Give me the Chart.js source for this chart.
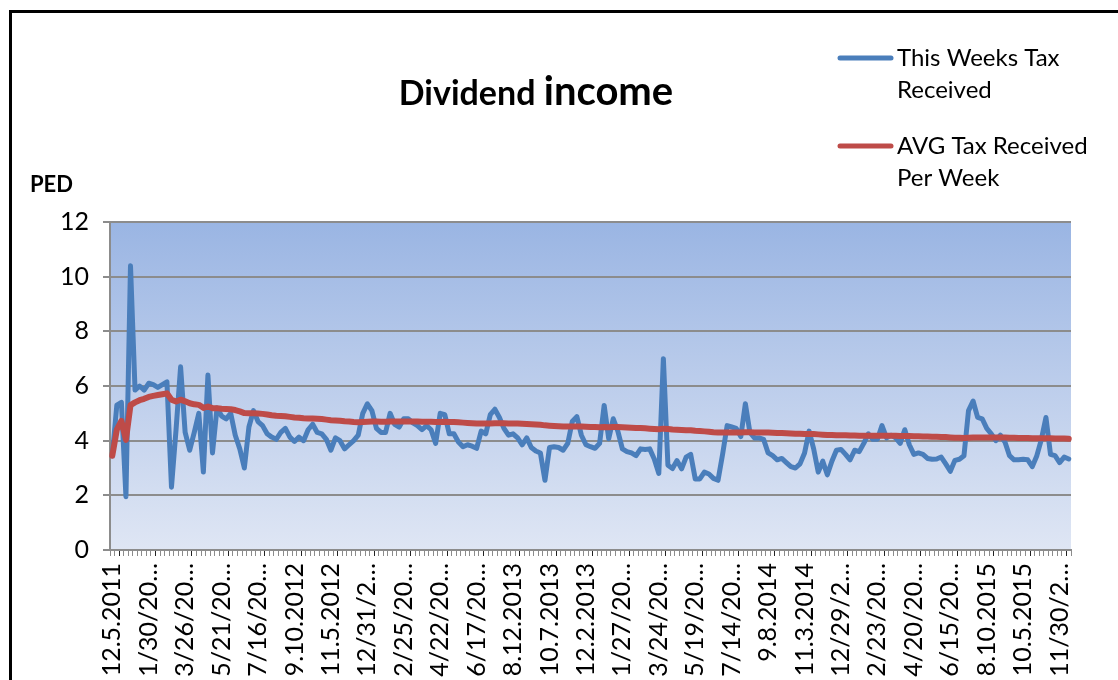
<!DOCTYPE html>
<html>
<head>
<meta charset="utf-8">
<title>Dividend income</title>
<script src="https://cdn.jsdelivr.net/npm/chart.js"></script>
<style>
  html, body { margin: 0; padding: 0; background: #fff; overflow: hidden; }
  #wrap { position: relative; width: 1118px; height: 680px; }
  #frame { position: absolute; left: 9px; top: 10px; width: 1200px; height: 800px; border: 3px solid #000; pointer-events: none; }
  canvas { position: absolute; left: 0; top: 0; }
</style>
</head>
<body>
<div id="wrap">
  <canvas id="divChart" width="1118" height="680"></canvas>
  <div id="frame"></div>
</div>
<script>
const chartTitle = 'Dividend income';
const yTitle = 'PED';
const seriesNames = ['This Weeks Tax Received', 'AVG Tax Received Per Week'];

// labels shown under the axis, one every 8 weeks
const tickLabels = ['12.5.2011', '1/30/20…', '3/26/20…', '5/21/20…', '7/16/20…', '9.10.2012',
  '11.5.2012', '12/31/2…', '2/25/20…', '4/22/20…', '6/17/20…', '8.12.2013', '10.7.2013',
  '12.2.2013', '1/27/20…', '3/24/20…', '5/19/20…', '7/14/20…', '9.8.2014', '11.3.2014',
  '12/29/2…', '2/23/20…', '4/20/20…', '6/15/20…', '8.10.2015', '10.5.2015', '11/30/2…'];

const yTicks = [0, 2, 4, 6, 8, 10, 12];

// weekly tax received
const taxWeek = [
  3.45, 5.3, 5.4, 1.95, 10.4, 5.85, 6.0, 5.85, 6.1, 6.05,
  5.95, 6.05, 6.15, 2.3, 4.4, 6.7, 4.3, 3.65, 4.3, 5.0,
  2.85, 6.4, 3.55, 5.2, 4.9, 4.8, 5.0, 4.2, 3.7, 3.0,
  4.5, 5.1, 4.7, 4.55, 4.25, 4.13, 4.05, 4.3, 4.45, 4.13,
  3.97, 4.13, 4.0, 4.4, 4.6, 4.3, 4.25, 4.05, 3.65, 4.1,
  4.0, 3.7, 3.85, 4.0, 4.2, 5.0, 5.35, 5.1, 4.45, 4.3,
  4.3, 5.0, 4.6, 4.5, 4.8, 4.8, 4.65, 4.55, 4.4, 4.55,
  4.4, 3.9, 5.0, 4.95, 4.25, 4.25, 3.95, 3.78, 3.85, 3.8,
  3.72, 4.35, 4.25, 4.95, 5.15, 4.85, 4.45, 4.2, 4.25, 4.1,
  3.85, 4.1, 3.75, 3.62, 3.55, 2.55, 3.75, 3.78, 3.75, 3.65,
  3.9, 4.7, 4.88, 4.2, 3.85, 3.78, 3.72, 3.9, 5.29, 4.07,
  4.8, 4.35, 3.7, 3.6, 3.55, 3.45, 3.7, 3.68, 3.7, 3.33,
  2.8, 7.0, 3.1, 2.98, 3.27, 2.97, 3.4, 3.5, 2.6, 2.6,
  2.85, 2.78, 2.62, 2.55, 3.5, 4.55, 4.5, 4.45, 4.15, 5.35,
  4.3, 4.1, 4.1, 4.05, 3.55, 3.45, 3.3, 3.35, 3.2, 3.05,
  3.0, 3.15, 3.55, 4.35, 3.7, 2.85, 3.25, 2.75, 3.25, 3.65,
  3.68, 3.5, 3.3, 3.65, 3.6, 3.9, 4.25, 4.05, 4.05, 4.55,
  4.1, 4.2, 4.1, 3.9, 4.4, 3.85, 3.5, 3.55, 3.5, 3.35,
  3.32, 3.33, 3.4, 3.15, 2.88, 3.28, 3.32, 3.45, 5.1, 5.45,
  4.85, 4.8, 4.45, 4.25, 4.0, 4.2, 3.95, 3.45, 3.3, 3.3,
  3.32, 3.3, 3.05, 3.45, 4.05, 4.85, 3.5, 3.45, 3.2, 3.4,
  3.33
];

// running average line
const taxAvg = [
  3.45, 4.4, 4.72, 4.03, 5.3, 5.4, 5.48, 5.53, 5.6, 5.64,
  5.67, 5.7, 5.73, 5.5, 5.43, 5.5, 5.44, 5.37, 5.33, 5.31,
  5.2, 5.25, 5.19, 5.19, 5.17, 5.16, 5.15, 5.12, 5.07, 5.01,
  5.0, 5.0, 4.99, 4.98, 4.96, 4.93, 4.91, 4.9, 4.89, 4.87,
  4.85, 4.84, 4.82, 4.81, 4.81, 4.8, 4.79, 4.77, 4.75, 4.74,
  4.73, 4.71, 4.7, 4.68, 4.67, 4.68, 4.69, 4.7, 4.7, 4.69,
  4.69, 4.7, 4.7, 4.7, 4.7, 4.7, 4.7, 4.7, 4.69, 4.69,
  4.69, 4.68, 4.68, 4.69, 4.68, 4.68, 4.67, 4.66, 4.65, 4.64,
  4.63, 4.63, 4.63, 4.63, 4.64, 4.64, 4.64, 4.63, 4.63, 4.63,
  4.62, 4.61, 4.6, 4.59, 4.58, 4.56, 4.55, 4.54, 4.53, 4.52,
  4.52, 4.52, 4.52, 4.52, 4.51, 4.5, 4.5, 4.49, 4.5, 4.49,
  4.5, 4.5, 4.49, 4.48, 4.47, 4.46, 4.46, 4.45, 4.44, 4.43,
  4.42, 4.44, 4.43, 4.41, 4.4, 4.39, 4.38, 4.38, 4.36, 4.35,
  4.34, 4.33, 4.31, 4.3, 4.3, 4.3, 4.3, 4.3, 4.3, 4.31,
  4.31, 4.3, 4.3, 4.3, 4.3, 4.29, 4.28, 4.28, 4.27, 4.26,
  4.25, 4.25, 4.24, 4.24, 4.24, 4.23, 4.22, 4.21, 4.21, 4.2,
  4.2, 4.2, 4.19, 4.19, 4.18, 4.18, 4.18, 4.18, 4.18, 4.18,
  4.18, 4.18, 4.18, 4.17, 4.17, 4.17, 4.16, 4.16, 4.15, 4.15,
  4.14, 4.14, 4.13, 4.13, 4.12, 4.11, 4.11, 4.1, 4.11, 4.12,
  4.12, 4.12, 4.12, 4.12, 4.12, 4.12, 4.12, 4.11, 4.11, 4.1,
  4.1, 4.1, 4.09, 4.09, 4.09, 4.09, 4.09, 4.08, 4.08, 4.08,
  4.07
];

// one category per week starting 12/5/2011
const weeks = [];
for (let i = 0; i < taxWeek.length; i++) {
  const d = new Date(2011, 11, 5 + 7 * i);
  weeks.push((d.getMonth() + 1) + '/' + d.getDate() + '/' + d.getFullYear());
}

const gridGray = '#8c8c8c';
const FONT = 'Lato';

// gradient fill behind the plot
const plotBg = {
  id: 'plotBg',
  beforeDraw(chart) {
    const { ctx, chartArea: a } = chart;
    const g = ctx.createLinearGradient(0, a.top, 0, a.bottom);
    g.addColorStop(0, '#9ab5e3');
    g.addColorStop(1, '#dfe6f4');
    ctx.save();
    ctx.fillStyle = g;
    ctx.fillRect(a.left, a.top, a.right - a.left, a.bottom - a.top);
    ctx.restore();
  }
};

function wrapText(ctx, text, maxW) {
  const words = text.split(' ');
  const lines = [];
  let cur = '';
  words.forEach(w => {
    const test = cur ? cur + ' ' + w : w;
    if (cur && ctx.measureText(test).width > maxW) {
      lines.push(cur);
      cur = w;
    } else {
      cur = test;
    }
  });
  if (cur) lines.push(cur);
  return lines;
}

// title, axis name and legend, drawn like the excel layout
const chartText = {
  id: 'chartText',
  afterDraw(chart) {
    const ctx = chart.ctx;
    ctx.save();
    ctx.fillStyle = '#000';
    ctx.textBaseline = 'alphabetic';
    ctx.textAlign = 'left';

    // title (second word comes out bigger in the original)
    const sp = chartTitle.indexOf(' ');
    const t1 = chartTitle.slice(0, sp + 1), t2 = chartTitle.slice(sp + 1);
    ctx.font = 'bold 34px ' + FONT;
    const w1 = ctx.measureText(t1).width;
    ctx.font = 'bold 40px ' + FONT;
    const w2 = ctx.measureText(t2).width;
    let x = 536 - (w1 + w2) / 2;
    ctx.font = 'bold 34px ' + FONT;
    ctx.fillText(t1, x, 105);
    ctx.font = 'bold 40px ' + FONT;
    ctx.fillText(t2, x + w1, 105);

    // y axis name
    ctx.font = 'bold 22px ' + FONT;
    ctx.fillText(yTitle, 30, 192);

    // legend
    ctx.font = '24px ' + FONT;
    let base = 66;
    chart.data.datasets.forEach(ds => {
      ctx.strokeStyle = ds.borderColor;
      ctx.lineWidth = 5;
      ctx.lineCap = 'round';
      ctx.beginPath();
      ctx.moveTo(840, base - 8);
      ctx.lineTo(891, base - 8);
      ctx.stroke();
      const lines = wrapText(ctx, ds.label, 215);
      lines.forEach((ln, k) => ctx.fillText(ln, 897, base + k * 32));
      base += 88;
    });
    ctx.restore();
  }
};

new Chart(document.getElementById('divChart'), {
  type: 'line',
  data: {
    labels: weeks,
    datasets: [{
      label: seriesNames[0],
      data: taxWeek,
      borderColor: '#4a7ebb',
      borderWidth: 5,
      pointRadius: 0,
      tension: 0,
      borderJoinStyle: 'round',
      borderCapStyle: 'round',
      order: 1
    }, {
      label: seriesNames[1],
      data: taxAvg,
      borderColor: '#be4b48',
      borderWidth: 6,
      pointRadius: 0,
      tension: 0,
      borderJoinStyle: 'round',
      borderCapStyle: 'round',
      order: 0
    }]
  },
  options: {
    responsive: false,
    animation: false,
    devicePixelRatio: 1,
    layout: { padding: { top: 222, left: 0, right: 47, bottom: 0 } },
    scales: {
      x: {
        offset: true,
        afterFit(s) { s.height = 130; },
        grid: {
          offset: true,
          drawOnChartArea: false,
          tickLength: 6,
          color: gridGray,
          tickColor: c => (c.index % 8 === 2 ? '#222' : gridGray)
        },
        border: { color: gridGray, width: 2 },
        ticks: {
          autoSkip: false,
          minRotation: 90,
          maxRotation: 90,
          padding: 7,
          color: '#000',
          font: { family: FONT, size: 25 },
          callback: (v, i) => (i % 8 === 0 ? tickLabels[i / 8] : '')
        }
      },
      y: {
        min: yTicks[0],
        max: yTicks[yTicks.length - 1],
        afterFit(s) { s.width = 110; },
        afterBuildTicks(s) { s.ticks = yTicks.map(v => ({ value: v })); },
        grid: { color: gridGray, lineWidth: 2, tickLength: 7 },
        border: { color: gridGray, width: 2 },
        ticks: {
          padding: 14,
          color: '#000',
          font: { family: FONT, size: 25 }
        }
      }
    },
    plugins: {
      legend: { display: false },
      title: { display: false },
      tooltip: { enabled: false }
    }
  },
  plugins: [plotBg, chartText]
});
</script>
</body>
</html>
